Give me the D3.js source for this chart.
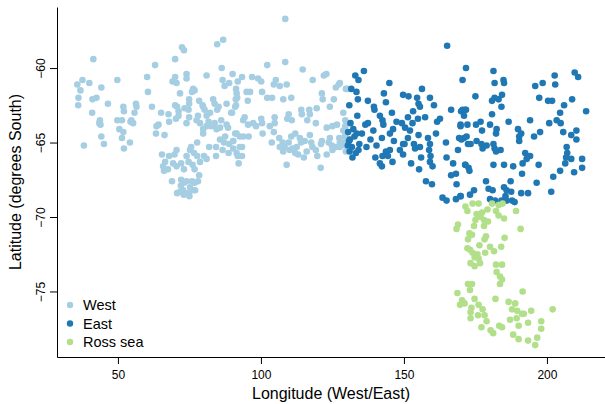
<!DOCTYPE html>
<html>
<head>
<meta charset="utf-8">
<script src="https://cdn.jsdelivr.net/npm/d3@7"></script>
<style>
  body { margin: 0; background: #fff; }
  svg { display: block; font-family: "Liberation Sans", Arial, sans-serif; }
</style>
</head>
<body>
<div id="scatter"></div>
<script>
// values: [longitude, latitude]
var westPts = [
  [41.4,-59.4],[35.8,-61.1],[37.6,-60.8],[40.0,-61.0],[36.9,-61.5],[36.2,-62.0],[36.1,-62.5],[41.0,-63.0],[41.1,-62.1],[42.5,-62.0],
  [44.2,-61.3],[46.5,-62.4],[49.8,-60.8],[38.1,-65.2],[44.2,-64.6],[45.1,-65.1],[43.7,-63.5],[43.9,-63.8],[43.5,-63.7],[49.8,-63.5],
  [51.4,-63.5],[50.5,-64.1],[51.9,-64.3],[51.4,-64.7],[52.1,-65.4],[54.2,-65.0],[51.9,-62.6],[52.1,-62.9],[56.3,-62.4],[56.5,-62.6],
  [55.8,-63.0],[54.7,-63.5],[55.3,-63.7],[54.4,-63.6],[60.2,-60.6],[60.5,-61.6],[61.9,-62.6],[63.0,-59.8],[64.2,-63.8],[63.5,-63.9],
  [63.3,-64.4],[66.3,-64.5],[65.1,-63.0],[67.7,-63.1],[67.9,-63.6],[70.0,-59.4],[72.4,-58.6],[73.1,-58.8],[70.0,-60.6],[69.1,-60.9],
  [70.5,-61.0],[74.0,-60.4],[74.0,-60.7],[71.7,-61.7],[76.3,-61.4],[76.8,-61.5],[75.9,-61.6],[74.9,-62.1],[74.9,-62.4],[70.0,-62.5],
  [70.7,-62.6],[71.2,-62.9],[73.3,-62.7],[74.7,-62.8],[70.3,-63.4],[71.2,-63.2],[74.0,-63.7],[74.9,-63.3],[78.0,-63.2],[77.5,-63.5],
  [78.4,-62.2],[79.8,-62.6],[80.3,-62.8],[79.6,-62.5],[81.0,-60.5],[84.7,-58.4],[86.8,-58.1],[86.3,-60.0],[90.1,-60.4],[86.6,-60.8],
  [87.3,-61.2],[88.9,-61.0],[91.5,-61.7],[91.2,-62.1],[91.0,-62.6],[91.9,-60.9],[83.3,-62.1],[83.8,-62.4],[85.2,-62.6],[84.7,-62.8],
  [88.0,-62.4],[89.6,-63.0],[82.2,-63.0],[81.0,-63.2],[78.7,-63.7],[81.7,-63.6],[82.6,-63.9],[79.8,-64.1],[81.0,-63.9],[83.8,-63.7],
  [84.5,-64.1],[86.1,-63.5],[88.0,-63.8],[88.5,-64.0],[85.7,-64.0],[91.0,-64.4],[92.6,-64.6],[87.5,-64.6],[85.7,-64.8],[87.1,-65.0],
  [88.9,-65.1],[90.3,-64.9],[84.3,-65.3],[81.9,-65.3],[79.8,-64.4],[77.7,-65.0],[75.6,-65.3],[76.6,-65.7],[77.7,-65.9],[75.2,-65.5],
  [74.0,-65.9],[70.5,-65.5],[69.8,-65.8],[67.9,-65.9],[65.4,-65.8],[66.5,-66.3],[65.8,-66.6],[66.1,-66.9],[67.5,-66.8],[69.3,-66.4],
  [70.5,-66.6],[72.1,-66.4],[73.1,-66.8],[74.7,-66.3],[76.1,-66.5],[76.8,-66.8],[78.4,-67.2],[78.7,-66.3],[80.1,-65.9],[81.0,-66.1],
  [84.3,-65.9],[86.6,-65.5],[88.7,-65.7],[90.3,-65.4],[91.9,-65.9],[92.6,-65.3],[68.9,-67.6],[72.1,-67.5],[73.1,-67.7],[74.0,-67.6],
  [75.9,-67.6],[76.8,-67.7],[76.3,-68.2],[74.7,-68.4],[72.8,-68.2],[70.7,-68.4],[71.7,-68.3],[75.2,-68.0],[73.0,-68.5],[75.0,-68.6],
  [77.0,-68.2],[72.0,-67.9],[78.0,-67.6],
  [108.5,-56.7],[108.5,-59.6],[102.2,-59.8],[114.6,-60.1],[93.4,-60.6],[96.9,-60.6],[99.0,-60.7],[100.1,-60.9],[105.2,-60.8],[104.5,-61.1],
  [106.6,-61.2],[109.0,-61.1],[118.1,-60.8],[122.0,-60.5],[122.9,-60.4],[127.2,-61.1],[126.2,-61.3],[130.2,-61.4],[91.3,-61.4],[91.7,-62.0],
  [95.0,-61.6],[96.2,-61.6],[95.4,-62.2],[100.4,-61.6],[102.2,-62.0],[103.9,-62.0],[107.8,-62.1],[110.6,-62.0],[121.3,-61.7],[121.6,-62.1],
  [125.5,-62.1],[124.1,-62.6],[91.3,-62.5],[89.9,-63.0],[94.3,-63.3],[93.8,-63.5],[95.5,-63.8],[97.3,-63.7],[98.3,-63.9],[100.1,-63.4],
  [100.4,-63.7],[100.6,-64.4],[103.1,-63.9],[104.8,-63.7],[104.8,-63.3],[109.7,-63.1],[109.2,-63.4],[110.8,-63.5],[114.1,-62.8],[114.3,-63.1],
  [116.9,-62.8],[117.1,-63.1],[119.5,-62.7],[116.2,-63.5],[119.2,-63.7],[123.0,-64.0],[126.6,-63.8],[125.0,-63.9],[129.5,-63.5],[91.5,-64.4],
  [93.8,-64.6],[95.7,-64.6],[90.3,-64.9],[93.4,-65.3],[91.5,-65.7],[93.4,-65.9],[92.2,-66.4],[103.8,-65.0],[104.5,-64.3],[106.4,-64.7],
  [107.6,-65.0],[108.3,-65.3],[107.8,-65.6],[109.7,-65.0],[110.6,-64.6],[112.0,-64.4],[113.6,-64.7],[112.5,-65.3],[112.0,-65.7],[115.3,-64.9],
  [117.1,-64.5],[117.6,-65.0],[119.2,-65.5],[119.7,-65.9],[121.3,-64.9],[123.7,-65.0],[124.8,-65.2],[124.1,-64.7],[127.4,-64.7],[127.6,-65.0],
  [126.2,-65.3],[129.3,-64.6],[129.7,-65.6],[109.0,-66.5],[120.9,-66.7],[128.8,-65.0],[106.6,-65.3],[110.1,-65.5],[111.0,-65.4],[114.0,-65.0],
  [116.0,-65.6],[118.0,-65.3],[121.0,-65.1],[113.0,-65.8],[115.0,-66.0],[125.0,-65.5],[123.0,-65.8],[129.5,-65.2],[130.5,-64.8],[130.0,-64.3],
  [129.5,-63.9],[127.6,-61.0],[129.7,-61.4],[128.8,-63.0],[128.8,-64.2],[130.0,-64.8],[127.6,-65.3]
];

var eastPts = [
  [165.1,-58.5],[136.0,-60.2],[133.0,-60.5],[134.1,-60.8],[144.9,-61.0],[131.6,-61.4],[133.4,-61.6],[143.0,-61.7],[149.7,-61.8],[151.6,-61.9],
  [156.3,-61.4],[154.6,-62.0],[159.1,-62.0],[137.4,-62.2],[133.9,-62.1],[143.7,-62.3],[130.9,-62.5],[139.5,-62.6],[139.7,-62.8],[145.8,-63.0],
  [153.2,-62.9],[155.1,-62.4],[155.6,-62.6],[160.5,-62.5],[166.5,-62.8],[170.0,-62.9],[171.4,-62.8],[133.7,-63.2],[141.6,-63.2],[142.5,-63.5],
  [142.8,-63.8],[136.5,-63.8],[137.4,-63.7],[131.3,-63.7],[132.3,-64.1],[147.4,-63.6],[149.3,-63.7],[151.4,-63.3],[153.0,-63.7],[154.9,-63.4],
  [157.4,-63.3],[162.6,-63.4],[161.6,-63.6],[150.4,-64.0],[152.1,-64.2],[146.2,-64.1],[139.3,-64.2],[135.3,-64.4],[132.7,-64.6],[131.1,-64.8],
  [134.4,-65.1],[138.3,-64.8],[140.4,-65.2],[142.3,-64.7],[145.1,-64.4],[146.5,-64.9],[149.7,-65.1],[151.4,-64.7],[153.5,-65.1],[155.1,-64.5],
  [158.4,-64.7],[159.1,-65.1],[161.2,-64.4],[155.6,-65.3],[153.9,-65.4],[150.2,-65.1],[149.7,-65.8],[148.6,-65.5],[145.1,-65.5],[143.7,-65.6],
  [144.4,-65.9],[142.5,-65.9],[140.0,-66.0],[141.6,-66.4],[142.3,-66.6],[146.0,-66.3],[133.2,-65.7],[134.1,-65.5],[136.9,-65.3],[158.8,-65.5],
  [159.3,-65.9],[159.1,-66.3],[160.0,-66.6],[156.0,-66.0],[152.5,-66.4],[155.3,-66.8],[157.7,-67.6],[159.8,-67.8],[164.7,-65.0],[168.9,-65.5],
  [169.3,-64.7],[171.0,-64.7],[172.4,-65.1],[169.8,-63.8],[164.9,-66.0],[167.2,-66.4],[171.4,-66.5],[166.5,-67.2],[168.2,-67.1],[168.4,-67.8],
  [163.5,-68.7],[164.9,-68.9],[168.2,-68.8],[169.8,-68.6],[172.6,-66.7],[131.8,-65.3],[130.4,-65.2],[130.5,-64.3],[131.0,-65.6],[132.0,-66.0],
  [130.8,-64.9],[133.5,-64.4],
  [171.7,-60.0],[170.5,-60.8],[181.3,-60.2],[181.7,-61.0],[184.8,-60.8],[185.0,-61.0],[175.0,-61.9],[180.8,-62.2],[181.7,-62.0],[183.1,-62.1],
  [184.3,-61.8],[184.1,-62.6],[170.5,-62.8],[171.7,-62.8],[171.0,-63.2],[180.8,-63.1],[186.6,-63.6],[189.9,-64.1],[190.3,-64.6],[191.0,-64.4],
  [190.3,-64.9],[194.1,-63.5],[195.9,-61.2],[198.5,-61.0],[202.7,-60.5],[202.9,-61.1],[209.7,-60.3],[210.9,-60.6],[197.3,-62.0],[200.4,-62.2],
  [201.8,-62.2],[208.8,-62.1],[206.0,-62.5],[204.6,-63.0],[213.7,-62.9],[200.8,-63.7],[203.4,-63.5],[204.8,-63.7],[205.7,-64.3],[208.5,-64.5],
  [210.3,-64.2],[210.3,-64.8],[197.6,-64.3],[195.5,-64.6],[169.8,-63.9],[172.2,-63.8],[175.2,-63.8],[176.8,-63.6],[177.3,-64.2],[180.1,-63.8],
  [182.4,-64.1],[182.2,-64.4],[170.1,-64.8],[171.9,-64.6],[173.3,-65.1],[175.4,-64.9],[177.1,-65.1],[177.5,-65.4],[178.9,-65.2],[181.3,-65.1],
  [181.7,-65.4],[182.2,-65.6],[183.8,-65.5],[192.4,-65.7],[194.1,-65.9],[192.9,-66.1],[191.5,-66.4],[191.3,-67.1],[188.2,-66.6],[185.0,-66.5],
  [181.3,-66.5],[171.5,-66.5],[172.9,-66.9],[197.1,-66.5],[202.2,-67.3],[204.6,-66.9],[207.1,-65.7],[206.7,-66.0],[206.4,-66.4],[208.5,-66.1],
  [209.5,-67.0],[212.3,-66.1],[212.3,-66.7],[206.9,-65.3],[178.7,-67.6],[179.6,-68.1],[181.0,-68.2],[187.3,-67.6],[185.0,-68.0],[185.9,-68.2],
  [187.5,-68.3],[191.0,-68.4],[193.4,-68.4],[196.4,-67.7],[201.5,-68.3],[174.5,-68.2],[173.1,-68.5],[169.8,-68.6],[180.1,-68.8],[181.9,-68.9],
  [184.1,-68.9],[185.5,-68.6],[185.9,-68.9],[187.8,-68.9],[188.7,-69.0]
];

var rossPts = [
  [171.5,-69.3],[172.2,-69.6],[174.0,-69.1],[176.1,-69.1],[180.8,-69.1],[183.1,-69.2],[184.5,-69.1],[179.2,-69.5],[182.2,-69.6],[175.4,-69.8],
  [177.3,-69.7],[176.8,-70.0],[175.0,-70.2],[178.0,-70.2],[179.4,-70.3],[183.1,-69.9],[185.0,-70.1],[189.2,-69.6],[168.9,-70.5],[168.4,-70.8],
  [174.5,-70.6],[178.0,-70.6],[190.8,-70.8],[172.9,-71.1],[173.8,-71.2],[172.4,-71.5],[178.7,-71.3],[178.2,-71.5],[185.2,-71.4],[176.4,-71.9],
  [172.2,-72.1],[173.1,-72.2],[174.0,-72.4],[175.7,-72.5],[178.4,-72.4],[180.1,-72.0],[181.5,-72.3],[184.0,-72.0],[174.7,-72.7],[176.1,-72.8],
  [176.6,-73.1],[173.3,-73.1],[174.7,-73.3],[182.2,-73.2],[184.3,-73.2],[182.4,-73.7],[183.6,-74.0],[184.3,-74.2],[183.6,-74.5],[172.4,-74.5],
  [173.8,-74.5],[173.1,-74.9],[168.7,-75.1],[170.3,-75.6],[169.6,-75.9],[171.2,-75.8],[174.7,-75.5],[173.6,-76.1],[173.3,-76.4],[173.3,-76.8],
  [176.1,-75.9],[177.5,-76.2],[178.2,-76.6],[175.9,-76.6],[178.9,-77.0],[177.1,-77.4],[180.3,-77.6],[181.2,-77.8],[183.3,-77.3],[184.3,-77.4],
  [182.0,-75.5],[186.6,-75.7],[188.9,-75.8],[187.8,-76.2],[189.6,-76.3],[191.3,-76.5],[191.9,-76.5],[194.5,-76.3],[191.5,-75.0],[187.1,-76.9],
  [189.4,-76.8],[190.1,-77.3],[193.4,-77.1],[188.2,-77.9],[190.1,-78.2],[193.4,-78.3],[196.6,-78.1],[198.0,-77.5],[198.0,-77.0],[195.9,-78.6],
  [202.0,-76.2]
];

var groups = ['West', 'East', 'Ross sea'];
var groupColors = ['#a6cee3', '#1f78b4', '#b2df8a'];
var xTicks = [50, 100, 150, 200];
var yTicks = [-75, -70, -65, -60];

var width = 605, height = 404;

var svg = d3.select('#scatter')
    .append('svg')
    .attr('width', width)
    .attr('height', height);

var x = d3.scaleLinear().domain([28.7, 220.3]).range([57, 605]);
var y = d3.scaleLinear().domain([-79.4, -55.9]).range([357, 7]);

var color = d3.scaleOrdinal().domain(groups).range(groupColors);

// axes (R style, left and bottom only)
var xAxis = svg.append('g')
    .attr('transform', 'translate(0,357)')
    .call(d3.axisBottom(x).tickValues(xTicks).tickSize(7).tickSizeOuter(0).tickPadding(6));

var yAxis = svg.append('g')
    .attr('transform', 'translate(57,0)')
    .call(d3.axisLeft(y).tickValues(yTicks).tickSize(7).tickSizeOuter(0)
        .tickFormat(function(d) { return String(d).replace('-', '\u2212'); }));

svg.selectAll('.domain, .tick line').attr('stroke', '#000');
svg.selectAll('.tick text').attr('fill', '#000').style('font-size', '12px')
    .style('font-family', '"Liberation Sans", Arial, sans-serif');

yAxis.selectAll('.tick text')
    .attr('x', null)
    .attr('dy', null)
    .attr('text-anchor', 'middle')
    .attr('transform', 'translate(-12,0) rotate(-90)');

svg.append('text')
    .attr('x', 331)
    .attr('y', 399)
    .attr('text-anchor', 'middle')
    .style('font-size', '16px')
    .text('Longitude (West/East)');

svg.append('text')
    .attr('transform', 'translate(21,182) rotate(-90)')
    .attr('text-anchor', 'middle')
    .style('font-size', '16px')
    .text('Latitude (degrees South)');

// points
var series = [westPts, eastPts, rossPts];
series.forEach(function(pts, i) {
    svg.append('g')
        .selectAll('circle')
        .data(pts)
        .enter()
        .append('circle')
        .attr('cx', function(d) { return x(d[0]); })
        .attr('cy', function(d) { return y(d[1]); })
        .attr('r', 3.3)
        .attr('fill', color(groups[i]));
});

// legend
var legend = svg.append('g')
    .attr('transform', 'translate(70,305)');

legend.selectAll('circle')
    .data(groups)
    .enter()
    .append('circle')
    .attr('cx', 0)
    .attr('cy', function(d, i) { return i * 18.5; })
    .attr('r', 3.2)
    .attr('fill', function(d) { return color(d); });

legend.selectAll('text')
    .data(groups)
    .enter()
    .append('text')
    .attr('x', 13)
    .attr('y', function(d, i) { return i * 18.5; })
    .attr('dy', '0.36em')
    .style('font-size', '14.5px')
    .text(function(d) { return d; });
</script>
</body>
</html>
